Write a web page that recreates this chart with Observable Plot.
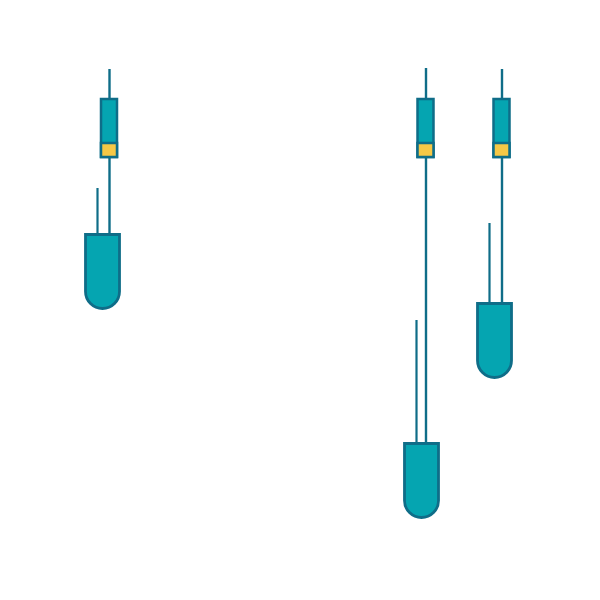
<!DOCTYPE html>
<html>
<head>
<meta charset="utf-8">
<script src="https://cdn.jsdelivr.net/npm/d3@7"></script>
<script src="https://cdn.jsdelivr.net/npm/@observablehq/plot@0.6"></script>
<style>
  body { margin: 0; background: #fff; }
</style>
</head>
<body>
<div id="chart"></div>
<script>
// values (same units as the 600x600 frame)
const headX = [109, 425.5, 501.5];   // centre of the small head + upper thread
const tubeX = [102, 421, 494];       // centre of the tube
const stemX = [97, 416, 489];        // short thread on the left of each tube
const tubeTop = [234, 443, 303];
const stemTop = [188, 320, 223];
const whiskerTop = [69, 68, 69];

const headTop = 99, capTop = 143, headBottom = 157;
const tubeLen = 74, tubeHalf = 17, headHalf = 8;

const teal = "#05a5b1";
const dark = "#0f6d88";
const yellow = "#f6c846";

const rows = tubeX.map((x, i) => ({
  tube: x, head: headX[i], stem: stemX[i],
  top: tubeTop[i], stemTop: stemTop[i], whisker: whiskerTop[i]
}));

// test-tube outline: square top, round bottom, centred on the dot position
const tubeSymbol = {
  draw(ctx) {
    const w = tubeHalf, h = tubeLen / 2;
    ctx.moveTo(-w, -h);
    ctx.lineTo(w, -h);
    ctx.lineTo(w, h - w);
    ctx.arc(0, h - w, w, 0, Math.PI);
    ctx.closePath();
  }
};

const chart = Plot.plot({
  width: 600,
  height: 600,
  margin: 0,
  x: {domain: [0, 600], axis: null},
  y: {domain: [0, 600], range: [0, 600], axis: null},
  marks: [
    // threads
    Plot.ruleX(rows, {x: "head", y1: "whisker", y2: () => headTop, stroke: dark, strokeWidth: 2.4}),
    Plot.ruleX(rows, {x: "head", y1: () => headBottom, y2: "top", stroke: dark, strokeWidth: 2.4}),
    Plot.ruleX(rows, {x: "stem", y1: "stemTop", y2: "top", stroke: dark, strokeWidth: 2.2}),
    // head
    Plot.rect(rows, {
      x1: d => d.head - headHalf, x2: d => d.head + headHalf,
      y1: () => headTop, y2: () => headBottom,
      fill: teal, stroke: dark, strokeWidth: 2.5
    }),
    Plot.rect(rows, {
      x1: d => d.head - headHalf, x2: d => d.head + headHalf,
      y1: () => capTop, y2: () => headBottom,
      fill: yellow, stroke: dark, strokeWidth: 2.5
    }),
    // tube
    Plot.dot(rows, {
      x: "tube", y: d => d.top + tubeLen / 2,
      symbol: tubeSymbol, r: 10,
      fill: teal, stroke: dark, strokeWidth: 2.8
    })
  ]
});

document.getElementById("chart").append(chart);
</script>
</body>
</html>
